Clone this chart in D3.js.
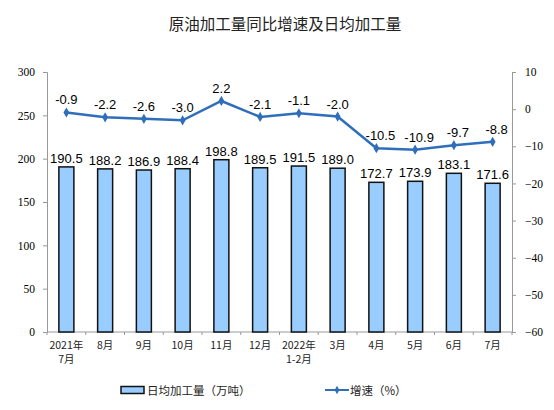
<!DOCTYPE html>
<meta charset="utf-8">
<script src="https://cdn.jsdelivr.net/npm/d3@7"></script>
<style>
  body { margin: 0; background: #fff; }
  text { fill: #000; }
</style>
<body>
<script>

var width = 554
var height = 410

// data
var months = ["2021年\n7月", "8月", "9月", "10月", "11月", "12月", "2022年\n1-2月", "3月", "4月", "5月", "6月", "7月"]
var daily = [190.5, 188.2, 186.9, 188.4, 198.8, 189.5, 191.5, 189.0, 172.7, 173.9, 183.1, 171.6]
var growth = [-0.9, -2.2, -2.6, -3.0, 2.2, -2.1, -1.1, -2.0, -10.5, -10.9, -9.7, -8.8]
var leftTicks = [0, 50, 100, 150, 200, 250, 300]
var rightTicks = [10, 0, -10, -20, -30, -40, -50, -60]

var plotL = 47, plotR = 512, plotT = 72, plotB = 332

var x = d3.scaleBand().domain(d3.range(months.length)).range([plotL, plotR])
var yL = d3.scaleLinear().domain([0, 300]).range([plotB, plotT])
var yR = d3.scaleLinear().domain([-60, 10]).range([plotB, plotT])
var cx = function(i) { return x(i) + x.bandwidth() / 2 }

var svg = d3.select("body").append("svg")
    .attr("width", width)
    .attr("height", height)

svg.append("text")
   .attr("x", 285).attr("y", 30)
   .attr("text-anchor", "middle")
   .style("font-family", "'Noto Sans CJK SC', sans-serif")
   .style("font-size", "15.5px")
   .style("fill", "#222")
   .text("原油加工量同比增速及日均加工量")

// left axis
var gl = svg.append("g")
    .attr("transform", "translate(" + plotL + ",0)")
    .call(d3.axisLeft(yL).tickValues(leftTicks).tickSize(4).tickPadding(8))
gl.select(".domain").attr("stroke", "#999")
gl.selectAll(".tick line").attr("stroke", "#999")
gl.selectAll(".tick text").style("font-family", "'Liberation Serif', serif").style("font-size", "11.5px").style("fill", "#000")

// right axis
var gr = svg.append("g")
    .attr("transform", "translate(" + plotR + ",0)")
    .call(d3.axisRight(yR).tickValues(rightTicks).tickSize(4).tickPadding(9))
gr.select(".domain").attr("stroke", "#999")
gr.selectAll(".tick line").attr("stroke", "#999")
gr.selectAll(".tick text").style("font-family", "'Liberation Serif', serif").style("font-size", "11.5px").style("fill", "#000")

// x axis
var bounds = d3.range(months.length + 1).map(function(i) { return plotL + i * x.step() })
svg.append("line")
   .attr("x1", plotL).attr("x2", plotR).attr("y1", plotB).attr("y2", plotB)
   .attr("stroke", "#999")
svg.selectAll(".xtick").data(bounds).enter().append("line")
   .attr("x1", function(d) { return d }).attr("x2", function(d) { return d })
   .attr("y1", plotB).attr("y2", plotB + 3)
   .attr("stroke", "#999")

var xl = svg.selectAll(".xlab").data(months).enter().append("text")
   .attr("text-anchor", "middle")
   .style("font-family", "'Noto Sans CJK SC', sans-serif")
   .style("font-size", "10.5px")
   .style("fill", "#222")
xl.each(function(d, i) {
  var t = d3.select(this)
  d.split("\n").forEach(function(s, j) {
    t.append("tspan").attr("x", cx(i)).attr("y", plotB + 17 + j * 14).text(s)
  })
})

// bars
var bw = 15
svg.selectAll(".bar").data(daily).enter().append("rect")
   .attr("x", function(d, i) { return cx(i) - bw / 2 })
   .attr("y", function(d) { return yL(d) })
   .attr("width", bw)
   .attr("height", function(d) { return plotB - yL(d) })
   .attr("fill", "#99ccff")
   .attr("stroke", "#111")
   .attr("stroke-width", 1.5)

svg.selectAll(".blab").data(daily).enter().append("text")
   .attr("x", function(d, i) { return cx(i) })
   .attr("y", function(d) { return yL(d) - 4 })
   .attr("text-anchor", "middle")
   .style("font-family", "'Liberation Sans', Arial, sans-serif")
   .style("font-size", "13px")
   .text(function(d) { return d.toFixed(1) })

// line
var line = d3.line()
    .x(function(d, i) { return cx(i) })
    .y(function(d) { return yR(d) })
svg.append("path")
   .attr("d", line(growth))
   .attr("fill", "none")
   .attr("stroke", "#2f6eba")
   .attr("stroke-width", 2.5)

var diamond = d3.symbol().type(d3.symbolDiamond).size(30)
svg.selectAll(".pt").data(growth).enter().append("path")
   .attr("d", diamond)
   .attr("transform", function(d, i) { return "translate(" + cx(i) + "," + yR(d) + ")" })
   .attr("fill", "#2f6eba")

svg.selectAll(".llab").data(growth).enter().append("text")
   .attr("x", function(d, i) { return cx(i) + (d < -5 ? 4 : 0) })
   .attr("y", function(d) { return yR(d) - 8 })
   .attr("text-anchor", "middle")
   .style("font-family", "'Liberation Sans', Arial, sans-serif")
   .style("font-size", "13px")
   .text(function(d) { return d.toFixed(1) })

// legend
var lg = svg.append("g")
lg.append("rect")
  .attr("x", 121).attr("y", 386.5).attr("width", 23).attr("height", 7)
  .attr("fill", "#99ccff").attr("stroke", "#111").attr("stroke-width", 1.5)
lg.append("text")
  .attr("x", 147).attr("y", 394.5)
  .style("font-family", "'Noto Sans CJK SC', sans-serif")
  .style("font-size", "11.5px")
  .style("fill", "#222")
  .text("日均加工量（万吨）")
lg.append("line")
  .attr("x1", 325).attr("x2", 349).attr("y1", 390).attr("y2", 390)
  .attr("stroke", "#2f6eba").attr("stroke-width", 2)
lg.append("path")
  .attr("d", d3.symbol().type(d3.symbolDiamond).size(20))
  .attr("transform", "translate(337,390)")
  .attr("fill", "#2f6eba")
lg.append("text")
  .attr("x", 350).attr("y", 394.5)
  .style("font-family", "'Noto Sans CJK SC', sans-serif")
  .style("font-size", "11.5px")
  .style("fill", "#222")
  .text("增速（%）")

</script>
</body>
